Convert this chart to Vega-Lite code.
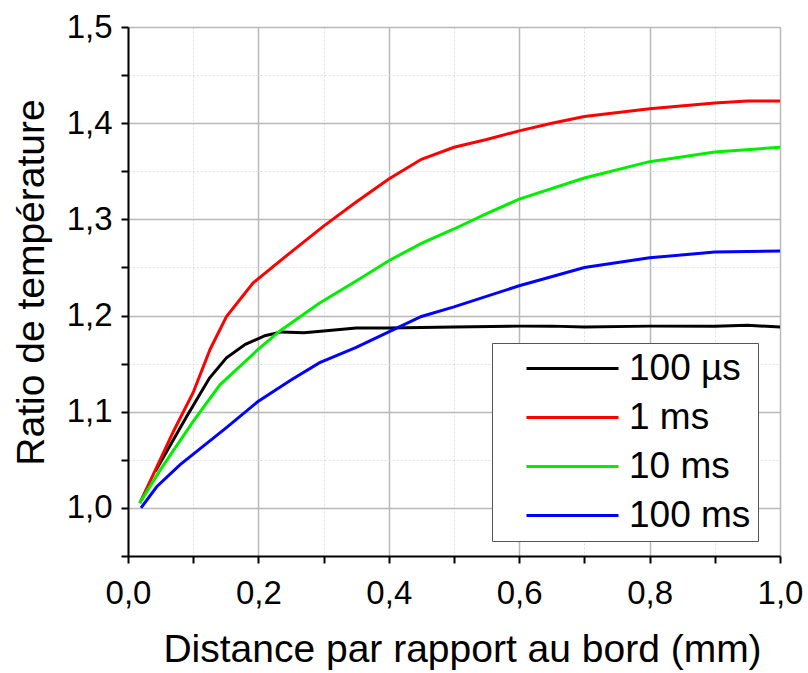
{
  "$schema": "https://vega.github.io/schema/vega-lite/v6.json",
  "width": 652,
  "height": 529,
  "autosize": {"type": "none"},
  "padding": {"left": 128, "top": 27, "right": 28, "bottom": 117},
  "background": "white",
  "config": {
    "font": "Liberation Sans",
    "view": {"stroke": null}
  },
  "data": {
    "values": [
      {"s": "100 µs", "x": 0.042, "y": 1.038},
      {"s": "100 µs", "x": 0.09, "y": 1.095},
      {"s": "100 µs", "x": 0.125, "y": 1.135},
      {"s": "100 µs", "x": 0.151, "y": 1.156},
      {"s": "100 µs", "x": 0.18, "y": 1.17},
      {"s": "100 µs", "x": 0.21, "y": 1.179},
      {"s": "100 µs", "x": 0.235, "y": 1.183},
      {"s": "100 µs", "x": 0.27, "y": 1.182},
      {"s": "100 µs", "x": 0.3, "y": 1.184},
      {"s": "100 µs", "x": 0.35, "y": 1.187},
      {"s": "100 µs", "x": 0.4, "y": 1.187},
      {"s": "100 µs", "x": 0.5, "y": 1.188},
      {"s": "100 µs", "x": 0.6, "y": 1.189},
      {"s": "100 µs", "x": 0.65, "y": 1.189},
      {"s": "100 µs", "x": 0.7, "y": 1.188},
      {"s": "100 µs", "x": 0.8, "y": 1.189},
      {"s": "100 µs", "x": 0.9, "y": 1.189},
      {"s": "100 µs", "x": 0.95, "y": 1.19},
      {"s": "100 µs", "x": 1.0, "y": 1.188},
      {"s": "1 ms", "x": 0.018, "y": 1.005},
      {"s": "1 ms", "x": 0.041, "y": 1.038},
      {"s": "1 ms", "x": 0.07, "y": 1.08},
      {"s": "1 ms", "x": 0.1, "y": 1.12},
      {"s": "1 ms", "x": 0.126, "y": 1.165},
      {"s": "1 ms", "x": 0.151, "y": 1.199},
      {"s": "1 ms", "x": 0.192, "y": 1.234},
      {"s": "1 ms", "x": 0.25, "y": 1.266},
      {"s": "1 ms", "x": 0.3, "y": 1.293},
      {"s": "1 ms", "x": 0.35, "y": 1.318},
      {"s": "1 ms", "x": 0.4, "y": 1.342},
      {"s": "1 ms", "x": 0.45, "y": 1.3625},
      {"s": "1 ms", "x": 0.5, "y": 1.375},
      {"s": "1 ms", "x": 0.55, "y": 1.383},
      {"s": "1 ms", "x": 0.6, "y": 1.392},
      {"s": "1 ms", "x": 0.65, "y": 1.4},
      {"s": "1 ms", "x": 0.7, "y": 1.407},
      {"s": "1 ms", "x": 0.8, "y": 1.415},
      {"s": "1 ms", "x": 0.9, "y": 1.421},
      {"s": "1 ms", "x": 0.95, "y": 1.423},
      {"s": "1 ms", "x": 1.0, "y": 1.423},
      {"s": "10 ms", "x": 0.018, "y": 1.005},
      {"s": "10 ms", "x": 0.05, "y": 1.04},
      {"s": "10 ms", "x": 0.1, "y": 1.09},
      {"s": "10 ms", "x": 0.141, "y": 1.128},
      {"s": "10 ms", "x": 0.2, "y": 1.165},
      {"s": "10 ms", "x": 0.233, "y": 1.184},
      {"s": "10 ms", "x": 0.294, "y": 1.213},
      {"s": "10 ms", "x": 0.35, "y": 1.236},
      {"s": "10 ms", "x": 0.4, "y": 1.257},
      {"s": "10 ms", "x": 0.45, "y": 1.275},
      {"s": "10 ms", "x": 0.5, "y": 1.29},
      {"s": "10 ms", "x": 0.55, "y": 1.306},
      {"s": "10 ms", "x": 0.6, "y": 1.321},
      {"s": "10 ms", "x": 0.7, "y": 1.343},
      {"s": "10 ms", "x": 0.8, "y": 1.36},
      {"s": "10 ms", "x": 0.9, "y": 1.37},
      {"s": "10 ms", "x": 1.0, "y": 1.375},
      {"s": "100 ms", "x": 0.02, "y": 1.0},
      {"s": "100 ms", "x": 0.044, "y": 1.022},
      {"s": "100 ms", "x": 0.08, "y": 1.045},
      {"s": "100 ms", "x": 0.115, "y": 1.064},
      {"s": "100 ms", "x": 0.15, "y": 1.083},
      {"s": "100 ms", "x": 0.2, "y": 1.111},
      {"s": "100 ms", "x": 0.25, "y": 1.133},
      {"s": "100 ms", "x": 0.294, "y": 1.151},
      {"s": "100 ms", "x": 0.35, "y": 1.167},
      {"s": "100 ms", "x": 0.4, "y": 1.183},
      {"s": "100 ms", "x": 0.45, "y": 1.199},
      {"s": "100 ms", "x": 0.5, "y": 1.209},
      {"s": "100 ms", "x": 0.6, "y": 1.231},
      {"s": "100 ms", "x": 0.7, "y": 1.25},
      {"s": "100 ms", "x": 0.8, "y": 1.26},
      {"s": "100 ms", "x": 0.9, "y": 1.266},
      {"s": "100 ms", "x": 1.0, "y": 1.267}
    ]
  },
  "mark": {"type": "line", "strokeWidth": 3, "clip": true},
  "encoding": {
    "x": {
      "field": "x",
      "type": "quantitative",
      "scale": {"domain": [0, 1], "nice": false, "zero": false},
      "axis": {
        "title": "Distance par rapport au bord (mm)",
        "values": [0, 0.1, 0.2, 0.3, 0.4, 0.5, 0.6, 0.7, 0.8, 0.9, 1.0],
        "labelExpr": "round(datum.value*10) % 2 == 0 ? replace(format(datum.value, '.1f'), '.', ',') : ''",
        "labelFontSize": 33,
        "labelColor": "black",
        "labelPadding": 14,
        "labelFlush": false,
        "labelOverlap": false,
        "titleFontSize": 39,
        "titleFontWeight": "normal",
        "titleColor": "black",
        "titlePadding": 20,
        "titleX": 334,
        "domainColor": "black",
        "domainWidth": 2,
        "tickColor": "black",
        "tickWidth": 2,
        "tickSize": 7,
        "grid": true,
        "gridColor": {"condition": {"test": "round(datum.value*10) % 2 == 0", "value": "#b8b8b8"}, "value": "#dddddd"},
        "gridDash": {"condition": {"test": "round(datum.value*10) % 2 == 0", "value": []}, "value": [2, 2]},
        "gridWidth": {"condition": {"test": "round(datum.value*10) % 2 == 0", "value": 1.5}, "value": 1}
      }
    },
    "y": {
      "field": "y",
      "type": "quantitative",
      "scale": {"domain": [0.95, 1.5], "nice": false, "zero": false},
      "axis": {
        "title": "Ratio de température",
        "values": [0.95, 1.0, 1.05, 1.1, 1.15, 1.2, 1.25, 1.3, 1.35, 1.4, 1.45, 1.5],
        "labelExpr": "round(datum.value*20) % 2 == 0 ? replace(format(datum.value, '.1f'), '.', ',') : ''",
        "labelFontSize": 33,
        "labelColor": "black",
        "labelPadding": 9,
        "labelFlush": false,
        "labelOverlap": false,
        "titleFontSize": 39,
        "titleFontWeight": "normal",
        "titleColor": "black",
        "titlePadding": 15,
        "titleY": 255,
        "domainColor": "black",
        "domainWidth": 2,
        "tickColor": "black",
        "tickWidth": 2,
        "tickSize": 7,
        "grid": true,
        "gridColor": {"condition": {"test": "round(datum.value*20) % 2 == 0", "value": "#b8b8b8"}, "value": "#dddddd"},
        "gridDash": {"condition": {"test": "round(datum.value*20) % 2 == 0", "value": []}, "value": [2, 2]},
        "gridWidth": {"condition": {"test": "round(datum.value*20) % 2 == 0", "value": 1.5}, "value": 1}
      }
    },
    "color": {
      "field": "s",
      "type": "nominal",
      "sort": ["100 µs", "1 ms", "10 ms", "100 ms"],
      "scale": {"domain": ["100 µs", "1 ms", "10 ms", "100 ms"], "range": ["#000000", "#ff0000", "#00ee00", "#0000ff"]},
      "legend": {
        "title": null,
        "orient": "none",
        "legendX": 364,
        "legendY": 316,
        "strokeColor": "#555555",
        "fillColor": "white",
        "padding": 7,
        "symbolType": "M-4,0H4",
        "symbolSize": 529,
        "symbolStrokeWidth": 3,
        "symbolOffset": 55,
        "labelFontSize": 37,
        "labelColor": "black",
        "labelOffset": 38,
        "rowPadding": 11,
        "labelLimit": 300
      }
    }
  }
}
